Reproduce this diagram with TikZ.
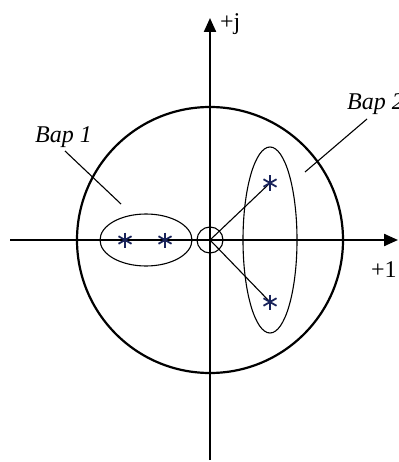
\documentclass[tikz,border=0pt]{standalone}
\usepackage{fontspec}
\setmainfont{Liberation Serif}
\usetikzlibrary{arrows.meta,calc}
\begin{document}
\begin{tikzpicture}[x=1pt,y=-1pt,
  axis/.style={line width=2.2pt,-{Triangle[length=14pt,width=12pt]}},
  bigcircle/.style={line width=2.2pt},
  thinline/.style={line width=1.1pt},
  lbl/.style={inner sep=0pt,font=\fontsize{24}{28}\selectfont},
  starmark/.style={line width=1.8pt,color={rgb,255:red,25;green,35;blue,90}}]
\useasboundingbox (0,0) rectangle (398,462);
\coordinate (O) at (210,240);
\coordinate (axL) at (10,240);
\coordinate (axR) at (398,240);
\coordinate (axB) at (210,460);
\coordinate (axT) at (210,18);
\coordinate (s1) at (125,240);
\coordinate (s2) at (165,240);
\coordinate (s3) at (270,183);
\coordinate (s4) at (270,302);
\coordinate (l1a) at (65,151);
\coordinate (l1b) at (121,204);
\coordinate (l2a) at (367,119);
\coordinate (l2b) at (305,172);
% axes
\draw[axis] (axL) -- (axR);
\draw[axis] (axB) -- (axT);
% unit circle
\draw[bigcircle] (O) circle[radius=133];
% small circle
\draw[thinline] (O) circle[radius=13];
% ellipses
\draw[thinline] (146,240) ellipse[x radius=46,y radius=26];
\draw[thinline] (270,240) ellipse[x radius=27,y radius=93];
% rays
\draw[thinline] (O) -- (s3);
\draw[thinline] (O) -- (s4);
% leaders
\draw[thinline] (l1a) -- (l1b);
\draw[thinline] (l2a) -- (l2b);
% stars
\foreach \s in {s1,s2,s3,s4}{
  \draw[starmark] ($(\s)+(0,-7.5)$) -- ($(\s)+(0,7.5)$);
  \draw[starmark] ($(\s)+(-6.5,-3.75)$) -- ($(\s)+(6.5,3.75)$);
  \draw[starmark] ($(\s)+(-6.5,3.75)$) -- ($(\s)+(6.5,-3.75)$);
}
% labels
\node[lbl,anchor=base west] (tj) at (220,30) {+j};
\node[lbl,anchor=base west] (t1) at (371,277) {+1};
\node[lbl,anchor=base west] (b1) at (35,143) {\itshape Bap 1};
\node[lbl,anchor=base west] (b2) at (347,110) {\itshape Bap 2};
\end{tikzpicture}
\end{document}
